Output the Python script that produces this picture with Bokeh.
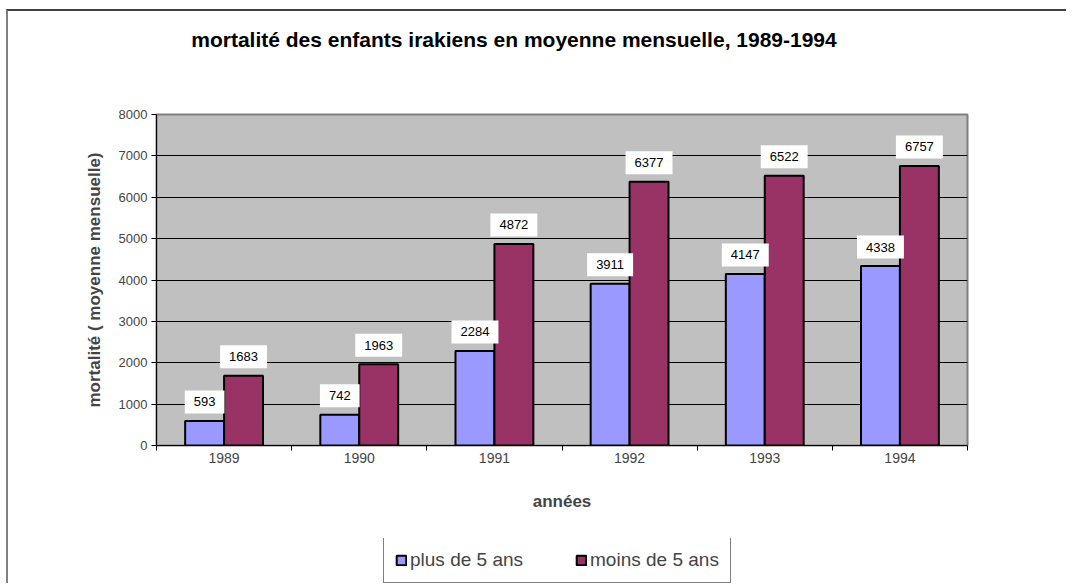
from bokeh.plotting import figure
from bokeh.layouts import column
from bokeh.models import ColumnDataSource, FixedTicker, Label, Legend, LegendItem, Range1d
from bokeh.core.properties import value
from bokeh.embed import file_html
from bokeh.resources import INLINE

years = ["1989", "1990", "1991", "1992", "1993", "1994"]
plus_5 = [593, 742, 2284, 3911, 4147, 4338]
moins_5 = [1683, 1963, 4872, 6377, 6522, 6757]
series_names = ["plus de 5 ans", "moins de 5 ans"]
title_text = "mortalité des enfants irakiens en moyenne mensuelle, 1989-1994"
y_title = "mortalité ( moyenne mensuelle)"
x_title = "années"
y_ticks = [0, 1000, 2000, 3000, 4000, 5000, 6000, 7000, 8000]

FONT = "Liberation Sans"
BLUE = "#9999FF"
RED = "#993366"
W = 0.288
FIG_W = 1060

centers = [i + 0.5 for i in range(len(years))]
src_b = ColumnDataSource(dict(x=[c - W / 2 for c in centers], top=plus_5,
                              label=[str(v) for v in plus_5]))
src_r = ColumnDataSource(dict(x=[c + W / 2 for c in centers], top=moins_5,
                              label=[str(v) for v in moins_5]))

# ---- title strip ----
p0 = figure(width=FIG_W, height=62, output_backend="svg", toolbar_location=None,
            x_range=Range1d(0, 1), y_range=Range1d(0, 1), min_border=0,
            x_axis_location=None, y_axis_location=None, frame_align=False,
            background_fill_color="white", border_fill_color="white")
p0.styles = {"border-top": "2px solid #404040", "border-left": "2px solid #808080"}
p0.outline_line_color = None
p0.grid.visible = False
p0.add_layout(Label(x=505.5, y=34, x_units="screen", y_units="screen",
                    text=title_text, text_align="center", text_baseline="middle",
                    text_font=FONT, text_font_size="21px", text_font_style="bold",
                    text_color="black"))

# ---- main chart ----
p = figure(width=FIG_W, height=467, output_backend="svg", toolbar_location=None,
           x_range=Range1d(0, len(years)), y_range=Range1d(0, 8000),
           min_border_left=148, min_border_right=101, min_border_top=43,
           min_border_bottom=93, background_fill_color="#C0C0C0",
           border_fill_color="white", frame_align=False)
p.styles = {"border-left": "2px solid #808080"}
p.outline_line_color = "#808080"
p.outline_line_width = 2

rb = p.vbar(x="x", top="top", width=W, source=src_b, fill_color=BLUE,
            line_color="black", line_width=2)
rr = p.vbar(x="x", top="top", width=W, source=src_r, fill_color=RED,
            line_color="black", line_width=2)

for s in (src_b, src_r):
    p.text(x="x", y="top", text="label", source=s, text_align="center",
           text_baseline="middle", y_offset=-19, text_font=value(FONT),
           text_font_size="13px", text_color="black",
           background_fill_color="white", padding=(9, 7))

# y axis
p.yaxis.ticker = FixedTicker(ticks=y_ticks)
p.yaxis.major_label_text_font = FONT
p.yaxis.major_label_text_font_size = "13px"
p.yaxis.major_tick_out = 5
p.yaxis.major_tick_in = 0
p.yaxis.minor_tick_out = 0
p.yaxis.minor_tick_in = 0
p.yaxis.major_label_standoff = 4
p.yaxis.axis_line_color = "black"
p.yaxis.axis_label = y_title
p.yaxis.axis_label_text_font = FONT
p.yaxis.axis_label_text_font_size = "17px"
p.yaxis.axis_label_text_font_style = "bold"
p.yaxis.axis_label_standoff = 12

# x axis
p.xaxis.ticker = FixedTicker(ticks=centers, minor_ticks=list(range(len(years) + 1)))
p.xaxis.major_label_overrides = {c: y for c, y in zip(centers, years)}
p.xaxis.major_label_text_font = FONT
p.xaxis.major_label_text_font_size = "14px"
p.xaxis.major_tick_out = 0
p.xaxis.major_tick_in = 0
p.xaxis.minor_tick_out = 5
p.xaxis.minor_tick_in = 0
p.xaxis.major_label_standoff = 2
p.xaxis.axis_line_color = "black"
p.xaxis.axis_label = x_title
p.xaxis.axis_label_text_font = FONT
p.xaxis.axis_label_text_font_size = "17px"
p.xaxis.axis_label_text_font_style = "bold"
p.xaxis.axis_label_standoff = 26

p.xgrid.visible = False
p.ygrid.ticker = FixedTicker(ticks=y_ticks[1:-1])
p.ygrid.grid_line_color = "black"
p.ygrid.grid_line_width = 1

# ---- legend strip ----
p2 = figure(width=FIG_W, height=45, output_backend="svg", toolbar_location=None,
            x_range=Range1d(0, len(years)), y_range=Range1d(0, 8000), min_border=0,
            x_axis_location=None, y_axis_location=None, frame_align=False,
            background_fill_color="white", border_fill_color="white")
p2.styles = {"border-left": "2px solid #808080"}
p2.outline_line_color = None
p2.grid.visible = False
lb = p2.vbar(x="x", top="top", width=W, source=src_b, fill_color=BLUE,
             line_color="black", line_width=2, visible=False)
lr = p2.vbar(x="x", top="top", width=W, source=src_r, fill_color=RED,
             line_color="black", line_width=2, visible=False)

legend = Legend(items=[LegendItem(label=series_names[0], renderers=[lb]),
                       LegendItem(label=series_names[1], renderers=[lr])],
                orientation="horizontal", location=(375, 0),
                label_text_font=FONT, label_text_font_size="19px",
                glyph_width=12, glyph_height=12, label_standoff=3,
                spacing=52, padding=11, margin=0,
                inactive_fill_alpha=0.0,
                border_line_color="black", border_line_width=1,
                background_fill_color="white")
p2.add_layout(legend, "center")

layout = column(p0, p, p2, spacing=0, margin=(9, 0, 0, 6))
open("out.html", "w").write(file_html(layout, INLINE))
